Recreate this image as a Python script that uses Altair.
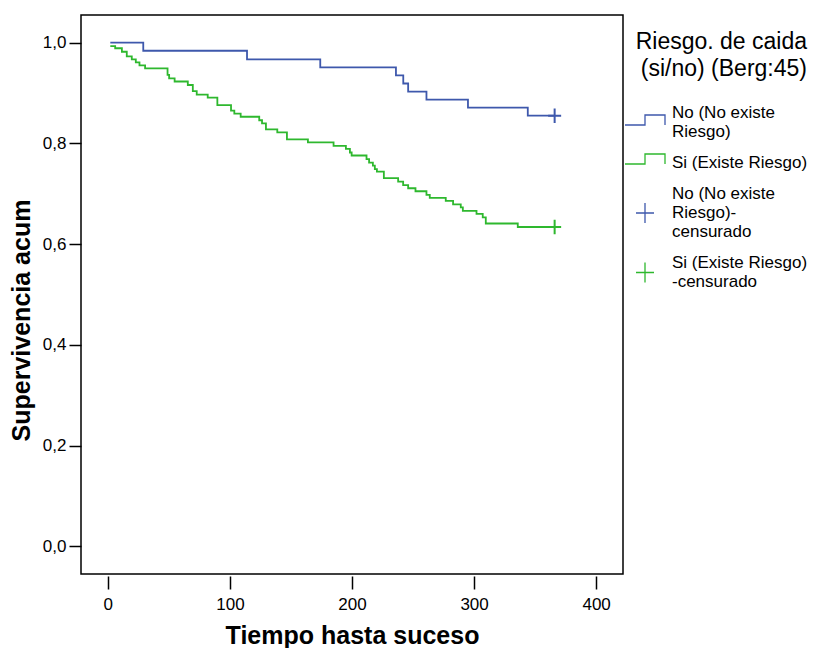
import altair as alt
import pandas as pd

# ---- data ----
blue_t = [2, 29, 114, 174, 236, 242, 246, 261, 295, 344, 366]
blue_s = [1.0, 0.984, 0.967, 0.951, 0.935, 0.919, 0.903, 0.887, 0.871, 0.855, 0.855]

green_t = [2, 6, 11.5, 15.5, 19.6, 22.9, 25.9, 30.5, 48.9, 50.2, 54.7, 65.5, 69.6, 72.8,
           81.8, 89.7, 100.9, 103.6, 108.8, 124.0, 126.3, 129.5, 138.8, 146.7, 163.9,
           184.9, 195.0, 198.3, 199.7, 211.9, 214.0, 217.1, 218.7, 220.4, 226.1, 237.8,
           241.9, 246.0, 252.0, 261.0, 263.7, 276.8, 282.8, 289.1, 290.8, 302.0, 307.1,
           309.6, 335.8, 366]
green_s = [0.993, 0.989, 0.982, 0.973, 0.967, 0.961, 0.955, 0.949, 0.936, 0.929, 0.923,
           0.916, 0.904, 0.897, 0.891, 0.876, 0.865, 0.859, 0.853, 0.846, 0.840, 0.828,
           0.822, 0.808, 0.802, 0.795, 0.789, 0.782, 0.776, 0.769, 0.762, 0.756, 0.749,
           0.744, 0.731, 0.724, 0.717, 0.711, 0.705, 0.698, 0.692, 0.686, 0.679, 0.673,
           0.666, 0.660, 0.653, 0.641, 0.634, 0.634]

legend_keys = ["No (No existe|Riesgo)", "Si (Existe Riesgo)",
               "No (No existe|Riesgo)-|censurado", "Si (Existe Riesgo)|-censurado"]
cens_blue_t, cens_blue_s = [366], [0.855]
cens_green_t, cens_green_s = [366], [0.634]

x_ticks = [0, 100, 200, 300, 400]
y_ticks = [0.0, 0.2, 0.4, 0.6, 0.8, 1.0]

BLUE = "#3E58AC"
GREEN = "#2EB82E"
# legend symbols (unit paths, vertically nudged to sit at the middle of wrapped labels)
LEG_SHAPES = ["M-1,0.6H0V0.1H1V0.6",
              "M-1,0.05H0V-0.45H1V0.05",
              "M-0.45,0.95H0.45M0,0.45V1.45",
              "M-0.45,0.475H0.45M0,-0.025V0.975"]
CROSS = "M-0.45,0H0.45M0,-0.5V0.5"

df_blue = pd.DataFrame({"t": blue_t, "s": blue_s})
df_green = pd.DataFrame({"t": green_t, "s": green_s})
df_cb = pd.DataFrame({"t": cens_blue_t, "s": cens_blue_s})
df_cg = pd.DataFrame({"t": cens_green_t, "s": cens_green_s})
df_leg = pd.DataFrame({"key": legend_keys})

xs = alt.Scale(domain=[-22, 422], nice=False, zero=False)
ys = alt.Scale(domain=[-0.055, 1.055], nice=False, zero=False)

xenc = alt.X("t:Q", scale=xs, axis=alt.Axis(
    values=x_ticks, title="Tiempo hasta suceso", format="d",
    tickSize=13, offset=2, labelPadding=7, titleFontSize=25, titleFontWeight="bold",
    titleBaseline="middle", titleY=59))
yenc = alt.Y("s:Q", scale=ys, axis=alt.Axis(
    values=y_ticks, title="Supervivencia acum",
    labelExpr="replace(format(datum.value, '.1f'), '.', ',')",
    tickSize=12, labelPadding=3, titleFontSize=25, titleFontWeight="bold",
    titleX=-47, titleY=305))

line_blue = alt.Chart(df_blue).mark_line(
    interpolate="step-after", color=BLUE, strokeWidth=1.8).encode(x=xenc, y=yenc)
line_green = alt.Chart(df_green).mark_line(
    interpolate="step-after", color=GREEN, strokeWidth=1.8).encode(x="t:Q", y="s:Q")

cross_blue = alt.Chart(df_cb).mark_point(
    shape=CROSS, filled=False, size=835, strokeWidth=2, color=BLUE, opacity=1
).encode(x="t:Q", y="s:Q")
cross_green = alt.Chart(df_cg).mark_point(
    shape=CROSS, filled=False, size=835, strokeWidth=2, color=GREEN, opacity=1
).encode(x="t:Q", y="s:Q")

leg = alt.Legend(
    title=["Riesgo. de caida", "(si/no) (Berg:45)"],
    orient="none", legendX=543, legendY=16,
    titleFontSize=23, titleFontWeight="normal", titleAnchor="end", titleAlign="right",
    titleLineHeight=27, titlePadding=11, titleColor="black",
    labelFontSize=17, labelColor="black", labelExpr="split(datum.label, '|')",
    labelLimit=400, labelOffset=6, symbolSize=1600, symbolStrokeWidth=1.3,
    rowPadding=2)

legend_layer = alt.Chart(df_leg).transform_filter("false").mark_point(
    filled=False, opacity=1).encode(
    color=alt.Color("key:N", scale=alt.Scale(domain=legend_keys, range=[BLUE, GREEN, BLUE, GREEN]),
                    legend=leg),
    shape=alt.Shape("key:N", scale=alt.Scale(domain=legend_keys, range=LEG_SHAPES),
                    legend=leg),
)

chart = alt.layer(line_blue, line_green, cross_blue, cross_green, legend_layer).properties(
    width=542, height=559,
    autosize=alt.AutoSizeParams(type="none"),
    padding={"left": 73, "top": 7, "right": 187, "bottom": 74},
).configure(font="Liberation Sans").configure_view(
    stroke="black", strokeWidth=1.5
).configure_axis(
    domain=False, grid=False, tickColor="black", tickWidth=1.5,
    labelColor="black", labelFontSize=17, titleColor="black"
)

chart.save("out.html", embed_options={"renderer": "svg", "actions": False})
